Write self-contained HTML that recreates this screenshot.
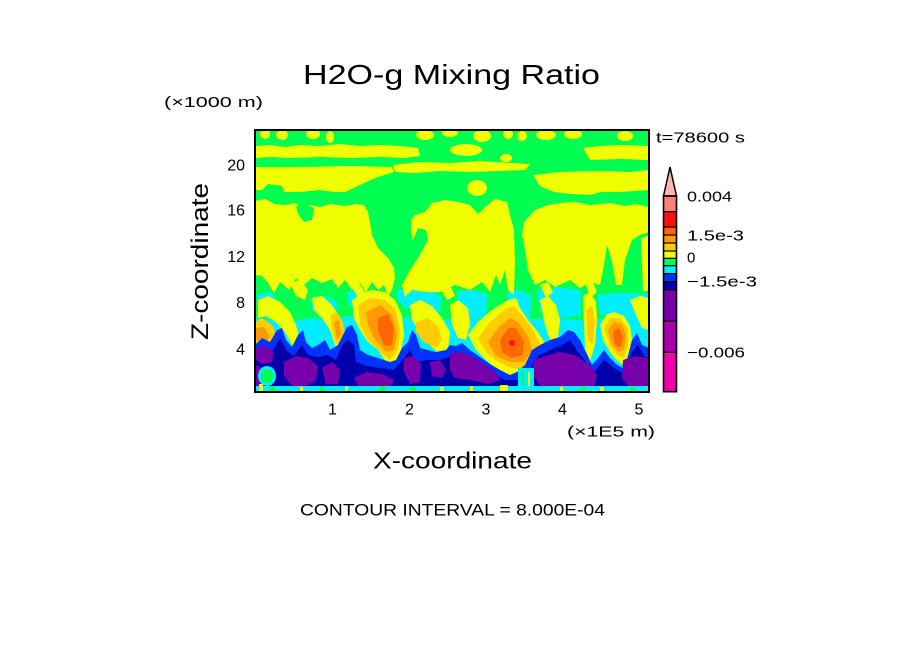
<!DOCTYPE html>
<html>
<head>
<meta charset="utf-8">
<style>
html,body{margin:0;padding:0;background:#fff;width:904px;height:654px;overflow:hidden;}
svg{position:absolute;left:0;top:0;}
text{font-family:"Liberation Sans",sans-serif;fill:#000;}
</style>
</head>
<body>
<svg width="904" height="654" viewBox="0 0 904 654" xmlns="http://www.w3.org/2000/svg">
<defs>
<clipPath id="pc"><rect x="255" y="130" width="394" height="262"/></clipPath>
</defs>

<text x="303" y="84" font-size="28" textLength="297" lengthAdjust="spacingAndGlyphs">H2O-g Mixing Ratio</text>
<text x="164" y="107" font-size="15" textLength="99" lengthAdjust="spacingAndGlyphs">(×1000 m)</text>
<text x="656" y="142.5" font-size="14.5" textLength="89" lengthAdjust="spacingAndGlyphs">t=78600 s</text>

<g clip-path="url(#pc)">
<rect x="255" y="130" width="394" height="262" fill="#00ff50"/>
<!-- cyan base and patches -->
<g fill="#00eeff">
<polygon points="255,318 270,320 290,322 310,318 330,320 350,316 370,320 400,318 420,316 440,320 460,318 490,322 520,320 550,318 580,320 610,318 630,320 649,318 649,392 255,392"/>
<polygon points="258,295 270,292 277,300 276,318 264,318 258,308"/>
<polygon points="311,298 325,296 337,302 336,318 320,317 312,310"/>
<polygon points="347,292 357,290 362,300 358,310 349,305"/>
<polygon points="397,290 415,287 432,290 441,298 440,313 425,312 405,308 398,300"/>
<polygon points="457,292 470,290 487,294 486,318 470,320 458,312"/>
<polygon points="507,292 520,290 531,296 530,322 515,322 508,310"/>
<polygon points="537,290 555,287 581,290 580,316 560,318 540,312"/>
<polygon points="597,295 620,293 647,294 649,320 620,320 600,314"/>
</g>
<!-- top small yellow blobs -->
<g fill="#f0ff00">
<ellipse cx="265" cy="134" rx="5" ry="5"/>
<ellipse cx="282" cy="135" rx="6" ry="5"/>
<ellipse cx="313" cy="134" rx="7" ry="5"/>
<ellipse cx="330" cy="137" rx="4" ry="6"/>
<ellipse cx="425" cy="135" rx="9" ry="5"/>
<ellipse cx="450" cy="133" rx="8" ry="4"/>
<ellipse cx="482" cy="136" rx="9" ry="6"/>
<ellipse cx="508" cy="134" rx="5" ry="5"/>
<ellipse cx="522" cy="136" rx="5" ry="5"/>
<ellipse cx="546" cy="135" rx="10" ry="5"/>
<ellipse cx="573" cy="134" rx="9" ry="5"/>
<ellipse cx="625" cy="136" rx="8" ry="5"/>
<polygon points="255,146 270,145 285,147 300,145 320,146 340,144 360,146 380,145 400,146 418,148 420,156 405,158 380,157 350,158 320,157 290,158 270,157 255,158"/>
<ellipse cx="466" cy="150" rx="16" ry="6"/>
<ellipse cx="506" cy="158" rx="6" ry="4"/>
<polygon points="583,148 600,146 620,145 649,146 649,160 620,159 590,160"/>
<polygon points="255,167 300,167 350,166 392,167 394,172 375,178 360,185 345,192 334,192 320,190 300,192 284,192 282,186 268,184 262,190 255,190"/>
<polygon points="393,165 420,162 450,163 480,161 510,163 530,164 525,170 500,171 470,172 440,171 415,173 395,172"/>
<polygon points="533,175 560,172 600,171 630,172 649,170 649,190 620,192 601,192 590,195 570,194 554,192 540,186"/>
<ellipse cx="477" cy="188" rx="10" ry="8"/>
<polygon points="255,201 265,199 275,204 285,205 295,203 300,206 310,205 320,207 330,204 345,206 356,204 364,205 368,212 370,222 372,235 378,248 388,258 394,268 395,278 392,290 388,296 384,285 378,290 372,282 366,292 360,283 352,290 345,280 338,288 332,279 322,283 312,278 303,286 296,278 289,290 280,282 274,293 268,283 262,276 255,275"/>
<polygon points="411,220 415,215 425,212 432,203 445,200 458,202 470,205 478,214 485,207 495,199 507,202 510,215 514,230 515,260 514,295 508,290 505,270 500,285 496,275 490,292 482,282 470,290 455,285 440,292 425,292 412,290 405,297 402,285 410,270 420,255 428,240 426,230 418,228 413,240 411,232"/>
<polygon points="524,222 535,210 548,205 560,203 575,202 590,205 610,203 625,206 635,204 649,207 649,232 640,235 632,240 625,260 622,285 616,285 612,262 607,245 604,265 600,285 590,282 580,288 570,280 555,287 545,280 535,285 528,270 525,250 522,235"/>
<polygon points="641,238 649,236 649,290 643,292"/>
<!-- fingers in green band -->
<polygon points="290,283 300,280 308,290 305,300 296,296"/>
<polygon points="350,284 358,282 365,292 360,300"/>
<polygon points="440,288 450,285 455,296 447,300"/>
<polygon points="540,285 548,282 553,292 546,298"/>
<polygon points="585,282 592,280 597,292 590,298"/>
<!-- lower flames -->
<polygon points="258,300 268,296 280,302 290,312 296,325 300,340 292,345 285,332 276,322 266,316 258,318"/>
<polygon points="312,298 322,296 332,305 340,318 346,335 344,350 336,348 330,330 322,318 314,310"/>
<polygon points="352,300 362,293 372,290 385,292 395,300 402,315 404,335 400,355 394,365 386,362 378,350 368,342 360,330 354,318"/>
<polygon points="410,305 420,300 432,306 442,318 450,332 448,350 440,355 430,345 420,332 412,320"/>
<polygon points="450,305 458,300 468,308 470,325 466,340 458,338 452,325"/>
<polygon points="468,335 478,322 488,313 498,306 508,300 516,298 520,308 528,320 538,332 546,345 540,360 532,372 524,380 516,372 508,378 498,372 488,362 476,350"/>
<polygon points="540,300 548,296 556,305 560,320 558,338 550,340 545,325"/>
<polygon points="583,296 590,292 596,302 597,320 595,345 590,362 585,350 584,325"/>
<polygon points="600,325 606,315 614,312 624,316 630,326 632,340 628,355 624,365 618,362 610,352 603,340"/>
<polygon points="630,300 640,296 649,298 649,330 642,328 636,315"/>
</g>
<polygon fill="#00ff50" points="296,206 305,204 314,208 312,220 304,222 298,214"/>
<g fill="#ffcc00">
<polygon points="255,322 262,318 272,325 278,338 276,348 265,346 255,342"/>
<polygon points="331,315 337,312 343,322 345,340 340,348 334,338 331,325"/>
<polygon points="358,305 370,298 385,300 396,310 400,330 398,350 390,360 380,352 368,340 360,325"/>
<polygon points="416,322 428,318 438,326 442,340 436,348 424,342 416,332"/>
<polygon points="478,338 490,322 504,310 514,306 522,315 532,328 540,344 534,360 524,370 512,368 498,362 486,352"/>
<polygon points="604,328 610,318 620,318 628,328 628,345 624,358 618,356 610,346"/>
<polygon points="586,310 592,305 595,320 593,345 588,340"/>
</g>
<g fill="#ff9900">
<polygon points="256,328 264,327 270,336 266,343 256,340"/>
<polygon points="334,322 339,320 341,335 337,340"/>
<polygon points="366,312 380,305 392,315 397,332 394,350 386,352 374,338 368,325"/>
<polygon points="488,342 498,328 510,318 518,322 528,336 532,350 524,362 510,362 496,356"/>
<polygon points="608,330 614,322 622,324 626,335 624,350 618,352 611,342"/>
</g>
<g fill="#ff6600">
<polygon points="378,318 388,314 394,328 392,345 385,346 378,332"/>
<polygon points="500,340 508,328 516,328 524,342 522,355 512,358 502,352"/>
<polygon points="613,332 619,328 623,338 620,348 615,344"/>
</g>
<circle cx="512" cy="343" r="3" fill="#ff1010"/>
<polygon fill="#0033ff" points="255,345 262,338 270,342 277,330 282,328 286,340 292,347 298,335 303,330 306,342 312,348 318,345 325,340 330,350 338,345 347,327 352,325 357,335 360,350 368,355 378,358 390,362 396,360 402,348 408,342 412,330 416,335 420,348 428,350 436,352 446,350 450,345 456,346 462,343 470,350 480,357 490,364 500,370 510,375 517,372 525,365 532,350 540,345 550,340 560,337 568,330 574,332 580,340 586,352 592,365 598,358 604,350 610,358 616,364 622,368 627,360 632,340 637,333 642,345 649,348 649,392 255,392"/>
<polygon fill="#0000aa" points="255,355 262,350 272,352 280,338 286,350 294,356 302,345 308,355 318,357 328,355 336,360 342,345 348,340 354,345 356,362 366,366 380,368 394,370 404,358 410,350 416,362 426,360 440,360 452,356 464,355 476,364 490,372 505,380 517,380 528,372 538,356 550,350 562,345 570,340 578,352 586,362 594,372 604,360 614,368 624,374 632,352 638,345 644,356 649,358 649,392 255,392"/>
<g fill="#7700aa">
<polygon points="256,348 266,346 274,352 272,362 262,364 256,360"/>
<polygon points="255,365 262,368 260,385 255,387"/>
<polygon points="284,362 296,356 308,358 318,366 316,380 306,387 292,386 284,376"/>
<polygon points="322,368 332,362 340,370 338,384 326,384"/>
<polygon points="354,378 366,372 382,374 394,380 390,390 360,390"/>
<polygon points="404,358 414,356 421,364 420,382 410,384 404,372"/>
<polygon points="430,362 440,360 446,370 442,378 432,376"/>
<polygon points="450,353 462,352 478,360 495,372 500,380 488,384 470,380 455,378 450,370"/>
<polygon points="533,360 545,356 560,352 575,355 590,365 597,375 594,387 560,388 540,386 533,375"/>
<polygon points="623,360 635,356 649,358 649,387 630,388 622,378"/>
</g>
<ellipse cx="267" cy="376" rx="9" ry="10" fill="#00eeff"/>
<ellipse cx="267" cy="376" rx="6" ry="7" fill="#00ff50"/>
<rect x="518" y="368" width="16" height="22" fill="#00eeff"/>
<rect x="521" y="370" width="3" height="20" fill="#00ff50"/>
<rect x="528" y="372" width="2" height="18" fill="#f0ff00"/>
<rect x="255" y="386" width="394" height="6" fill="#00eeff"/>
<g fill="#f0ff00">
<rect x="259" y="384" width="4" height="8"/><rect x="300" y="387" width="3" height="5"/>
<rect x="345" y="386" width="3" height="6"/><rect x="440" y="387" width="4" height="5"/>
<rect x="470" y="386" width="3" height="6"/><rect x="500" y="385" width="8" height="7"/>
<rect x="560" y="387" width="3" height="5"/><rect x="600" y="387" width="4" height="5"/>
</g>
<g fill="#00ff50">
<rect x="270" y="386" width="5" height="6"/><rect x="320" y="386" width="4" height="6"/>
<rect x="380" y="386" width="5" height="6"/><rect x="410" y="387" width="6" height="5"/>
<rect x="580" y="387" width="5" height="5"/><rect x="630" y="387" width="5" height="5"/>
</g>
</g>
<rect x="255" y="130" width="394" height="262" fill="none" stroke="#000" stroke-width="2"/>

<polygon points="663.5,196 676.5,196 670,167" fill="#ffb4b4" stroke="#000" stroke-width="1.5"/>
<rect x="663.5" y="196" width="13" height="15.7" fill="#ff7f7f"/>
<rect x="663.5" y="211.7" width="13" height="15.3" fill="#ff1010"/>
<rect x="663.5" y="227" width="13" height="8" fill="#ff6600"/>
<rect x="663.5" y="235" width="13" height="8" fill="#ff9900"/>
<rect x="663.5" y="243" width="13" height="8" fill="#ffcc00"/>
<rect x="663.5" y="251" width="13" height="7.3" fill="#eeff00"/>
<rect x="663.5" y="258.3" width="13" height="7.4" fill="#00ff55"/>
<rect x="663.5" y="265.7" width="13" height="8" fill="#00eeff"/>
<rect x="663.5" y="273.7" width="13" height="8" fill="#0033ff"/>
<rect x="663.5" y="281.7" width="13" height="8" fill="#0000aa"/>
<rect x="663.5" y="289.7" width="13" height="31.3" fill="#7700aa"/>
<rect x="663.5" y="321" width="13" height="31.3" fill="#aa00aa"/>
<rect x="663.5" y="352.3" width="13" height="39.4" fill="#ee00aa"/>
<g stroke="#000" stroke-width="1.2">
<line x1="663.5" y1="211.7" x2="676.5" y2="211.7"/><line x1="663.5" y1="227" x2="676.5" y2="227"/>
<line x1="663.5" y1="235" x2="676.5" y2="235"/><line x1="663.5" y1="243" x2="676.5" y2="243"/>
<line x1="663.5" y1="251" x2="676.5" y2="251"/><line x1="663.5" y1="258.3" x2="676.5" y2="258.3"/>
<line x1="663.5" y1="265.7" x2="676.5" y2="265.7"/><line x1="663.5" y1="273.7" x2="676.5" y2="273.7"/>
<line x1="663.5" y1="281.7" x2="676.5" y2="281.7"/><line x1="663.5" y1="289.7" x2="676.5" y2="289.7"/>
<line x1="663.5" y1="321" x2="676.5" y2="321"/><line x1="663.5" y1="352.3" x2="676.5" y2="352.3"/>
</g>
<rect x="663.5" y="196" width="13" height="195.7" fill="none" stroke="#000" stroke-width="1.6"/>
<g font-size="15">
<text x="687" y="201.7" textLength="45" lengthAdjust="spacingAndGlyphs">0.004</text>
<text x="687" y="240.7" textLength="57" lengthAdjust="spacingAndGlyphs">1.5e-3</text>
<text x="687" y="262.7">0</text>
<text x="687" y="286.7" textLength="70" lengthAdjust="spacingAndGlyphs">−1.5e-3</text>
<text x="687" y="357.3" textLength="58" lengthAdjust="spacingAndGlyphs">−0.006</text>
</g>

<g font-size="16" text-anchor="end">
<text x="245" y="170.5">20</text>
<text x="245" y="215.5">16</text>
<text x="245" y="262">12</text>
<text x="245" y="308">8</text>
<text x="245" y="354.5">4</text>
</g>
<text transform="translate(208,340) rotate(-90)" font-size="24" textLength="157" lengthAdjust="spacingAndGlyphs">Z-coordinate</text>

<g font-size="16" text-anchor="middle">
<text x="332.5" y="414.5">1</text>
<text x="409.5" y="414.5">2</text>
<text x="486" y="414.5">3</text>
<text x="562.5" y="414.5">4</text>
<text x="639" y="414.5">5</text>
</g>
<text x="567" y="436.5" font-size="15" textLength="88" lengthAdjust="spacingAndGlyphs">(×1E5 m)</text>
<text x="373" y="468.5" font-size="23" textLength="159" lengthAdjust="spacingAndGlyphs">X-coordinate</text>
<text x="300" y="515.7" font-size="17" textLength="305" lengthAdjust="spacingAndGlyphs">CONTOUR INTERVAL = 8.000E-04</text>
</svg>
</body>
</html>
